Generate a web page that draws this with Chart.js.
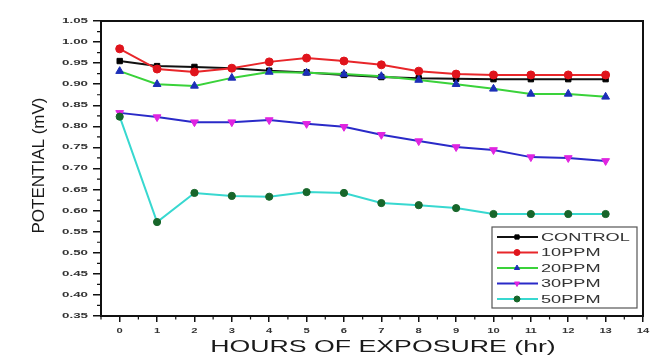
<!DOCTYPE html>
<html>
<head>
<meta charset="utf-8">
<script src="https://cdn.jsdelivr.net/npm/chart.js@4.4.0/dist/chart.umd.min.js"></script>
<style>
html,body{margin:0;padding:0;background:#fff;}
#wrap{width:650px;height:358px;position:relative;}
</style>
</head>
<body>
<div id="wrap"><canvas id="c" width="650" height="358"></canvas></div>
<script>
const hours = [0,1,2,3,4,5,6,7,8,9,10,11,12,13];
const seriesNames = ["CONTROL","10PPM","20PPM","30PPM","50PPM"];
const control = [0.955,0.943,0.941,0.938,0.932,0.928,0.922,0.917,0.914,0.913,0.912,0.912,0.912,0.912];
const ppm10   = [0.984,0.936,0.929,0.938,0.953,0.962,0.955,0.946,0.931,0.924,0.922,0.922,0.922,0.922];
const ppm20   = [0.931,0.900,0.896,0.915,0.929,0.927,0.924,0.919,0.910,0.900,0.889,0.877,0.877,0.870];
const ppm30   = [0.832,0.822,0.810,0.810,0.815,0.806,0.799,0.780,0.765,0.751,0.744,0.727,0.725,0.718];
const ppm50   = [0.823,0.573,0.642,0.635,0.633,0.644,0.642,0.618,0.613,0.606,0.592,0.592,0.592,0.592];
const xTickValues = [0,1,2,3,4,5,6,7,8,9,10,11,12,13,14];
const yTickValues = [0.35,0.40,0.45,0.50,0.55,0.60,0.65,0.70,0.75,0.80,0.85,0.90,0.95,1.00,1.05];
const xTitle = "HOURS OF EXPOSURE (hr)";
const yTitle = "POTENTIAL (mV)";

const styles = [
  {line:"#111111", point:"#000000", style:"rect", rot:0, r:3.8},
  {line:"#e8262a", point:"#e0141c", style:"circle", rot:0, r:4},
  {line:"#3ad23a", point:"#1c2fb8", style:"triangle", rot:0, r:4.5},
  {line:"#2a2ac8", point:"#e024e0", style:"triangle", rot:180, r:4.5},
  {line:"#38d8d0", point:"#17662a", style:"circle", rot:0, r:3.6}
];
const allSeries = [control, ppm10, ppm20, ppm30, ppm50];

const datasets = allSeries.map((vals,i)=>({
  label: seriesNames[i],
  data: hours.map((h,j)=>({x:h, y:vals[j]})),
  borderColor: styles[i].line,
  backgroundColor: styles[i].point,
  pointBackgroundColor: styles[i].point,
  pointBorderColor: styles[i].point,
  pointStyle: styles[i].style,
  pointRotation: styles[i].rot,
  pointRadius: styles[i].r,
  pointBorderWidth: 1,
  borderWidth: 2,
  tension: 0
})).reverse();

function stretchText(ctx, text, x, y, sx, align){
  ctx.save();
  ctx.translate(x, y);
  ctx.scale(sx, 1);
  ctx.textAlign = align;
  ctx.fillText(text, 0, 0);
  ctx.restore();
}

const decor = {
  id: 'decor',
  afterDraw(chart){
    const ctx = chart.ctx;
    const ca = chart.chartArea;
    const xs = chart.scales.x, ys = chart.scales.y;
    ctx.save();
    // frame
    ctx.strokeStyle = '#111';
    ctx.lineWidth = 2;
    ctx.strokeRect(ca.left, ca.top, ca.right - ca.left, ca.bottom - ca.top);
    // minor ticks
    ctx.lineWidth = 1.2;
    ctx.beginPath();
    for (let i = 0; i < xTickValues.length; i++){
      const v = xTickValues[i] - 0.5;
      if (v < xs.min) continue;
      const px = xs.getPixelForValue(v);
      ctx.moveTo(px, ca.bottom); ctx.lineTo(px, ca.bottom + 3.5);
    }
    for (let i = 0; i < yTickValues.length - 1; i++){
      const v = (yTickValues[i] + yTickValues[i+1]) / 2;
      const py = ys.getPixelForValue(v);
      ctx.moveTo(ca.left, py); ctx.lineTo(ca.left - 4, py);
    }
    ctx.stroke();
    // tick labels
    ctx.fillStyle = '#333';
    ctx.font = 'bold 7px "Liberation Sans", Arial, sans-serif';
    ctx.textBaseline = 'middle';
    xs.ticks.forEach(t => {
      const px = xs.getPixelForValue(t.value);
      stretchText(ctx, String(t.value), px, ca.bottom + 15, 1.6, 'center');
    });
    ys.ticks.forEach(t => {
      const py = ys.getPixelForValue(t.value);
      stretchText(ctx, t.value.toFixed(2), ca.left - 13, py, 1.9, 'right');
    });
    // axis titles
    ctx.fillStyle = '#1a1a1a';
    ctx.font = '17px "Liberation Sans", Arial, sans-serif';
    ctx.textBaseline = 'alphabetic';
    stretchText(ctx, xTitle, (ca.left + ca.right)/2 + 11, 352, 1.57, 'center');
    ctx.save();
    ctx.translate(44, (ca.top + ca.bottom)/2 - 3);
    ctx.rotate(-Math.PI/2);
    ctx.textAlign = 'center';
    ctx.fillText(yTitle, 0, 0);
    ctx.restore();
    // legend
    const bw = 145, bh = 81;
    const bx = ca.right - 6 - bw, by = ca.bottom - 8 - bh;
    ctx.fillStyle = '#fff';
    ctx.fillRect(bx, by, bw, bh);
    ctx.strokeStyle = '#555';
    ctx.lineWidth = 1.2;
    ctx.strokeRect(bx, by, bw, bh);
    ctx.font = '11px "Liberation Sans", Arial, sans-serif';
    ctx.textBaseline = 'middle';
    seriesNames.forEach((name, i) => {
      const y = by + 10 + i * 15.5;
      const st = styles[i];
      ctx.strokeStyle = st.line;
      ctx.lineWidth = 2;
      ctx.beginPath();
      ctx.moveTo(bx + 5, y); ctx.lineTo(bx + 46, y);
      ctx.stroke();
      ctx.fillStyle = st.point;
      ctx.strokeStyle = st.point;
      ctx.lineWidth = 1;
      Chart.helpers.drawPoint(ctx, {pointStyle: st.style, rotation: st.rot, radius: 3, borderWidth: 1}, bx + 25, y);
      ctx.fillStyle = '#333';
      stretchText(ctx, name, bx + 49, y + 0.5, 1.65, 'left');
    });
    ctx.restore();
  }
};

new Chart(document.getElementById('c'), {
  type: 'line',
  data: { datasets },
  options: {
    responsive: false,
    animation: false,
    layout: { padding: { left: 0, top: 21, right: 7, bottom: 0 } },
    plugins: { legend: { display: false }, tooltip: { enabled: false } },
    scales: {
      x: {
        type: 'linear',
        min: -0.5, max: 14,
        afterFit(s){ s.height = 42; },
        afterBuildTicks(s){ s.ticks = xTickValues.map(v => ({value: v})); },
        ticks: { display: false },
        grid: { drawOnChartArea: false, drawTicks: true, tickLength: 6, color: '#111', lineWidth: 1.5 },
        border: { display: true, color: '#111', width: 2 }
      },
      y: {
        type: 'linear',
        min: 0.35, max: 1.05,
        afterFit(s){ s.width = 101; },
        afterBuildTicks(s){ s.ticks = yTickValues.map(v => ({value: v})); },
        ticks: { display: false },
        grid: { drawOnChartArea: false, drawTicks: true, tickLength: 8, color: '#111', lineWidth: 1.5 },
        border: { display: true, color: '#111', width: 2 }
      }
    }
  },
  plugins: [decor]
});
</script>
</body>
</html>
